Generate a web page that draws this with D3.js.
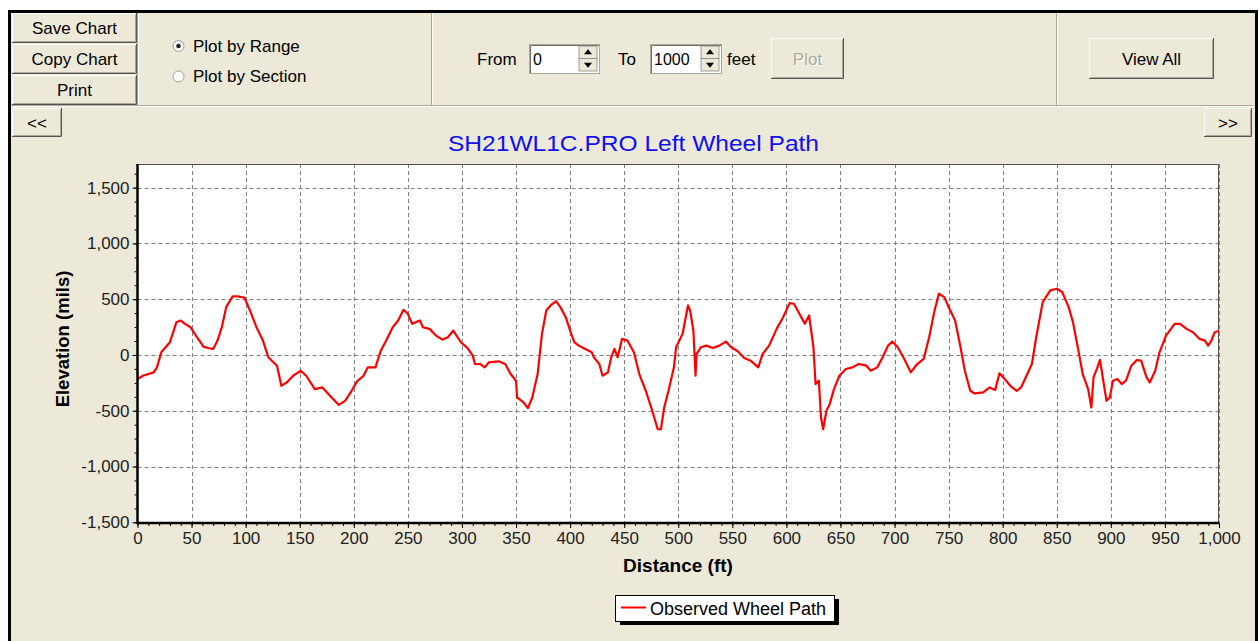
<!DOCTYPE html>
<html>
<head>
<meta charset="utf-8">
<script src="https://cdn.jsdelivr.net/npm/d3@7"></script>
<style>
  body { margin: 0; background: #fff; }
  svg text { font-family: "Liberation Sans", Arial, sans-serif; }
</style>
</head>
<body>
<script>
/**
 * DATA
 * */
const distanceFt = [
  0, 5, 15, 18, 22, 30, 36, 40, 44, 49, 55, 61, 66, 70, 74, 78, 82, 88, 93, 99,
  104, 110, 116, 121, 129, 133, 138, 144, 151, 156, 164, 171, 178, 186, 192, 198, 203, 209, 213, 220,
  225, 230, 236, 241, 246, 250, 254, 261, 264, 270, 276, 282, 287, 292, 299, 305, 310, 312, 317, 321,
  325, 334, 340, 345, 350, 351, 357, 361, 365, 370, 374, 378, 382, 387, 391, 396, 401, 404, 408, 414,
  420, 422, 427, 430, 435, 438, 441, 444, 448, 453, 459, 464, 470, 476, 481, 484, 487, 491, 496, 498,
  504, 509, 511, 514, 516, 517, 521, 526, 532, 538, 544, 549, 555, 561, 567, 574, 578, 584, 591, 597,
  603, 607, 612, 617, 621, 625, 627, 630, 632, 634, 637, 640, 644, 649, 655, 661, 667, 674, 678, 684,
  689, 694, 698, 703, 709, 715, 721, 727, 732, 737, 741, 746, 750, 756, 761, 765, 770, 774, 782, 788,
  793, 797, 802, 807, 813, 817, 822, 827, 831, 837, 844, 850, 855, 861, 865, 870, 874, 879, 882, 884,
  887, 890, 893, 896, 899, 902, 906, 910, 914, 919, 924, 928, 933, 936, 941, 945, 951, 959, 964, 970,
  976, 982, 987, 990, 993, 996, 999, 1000
];
const elevationMils = [
  -216, -186, -156, -111, 24, 114, 294, 309, 279, 249, 159, 75, 60, 54, 129, 249, 429, 525, 525, 513,
  399, 249, 129, -21, -96, -276, -246, -186, -141, -186, -306, -291, -366, -447, -411, -321, -237, -186, -111, -111,
  39, 129, 249, 309, 405, 369, 279, 309, 249, 234, 174, 138, 159, 219, 114, 63, -6, -81, -81, -111,
  -66, -57, -81, -171, -231, -381, -426, -477, -381, -171, 189, 399, 444, 483, 429, 339, 189, 114, 84, 54,
  24, -21, -81, -186, -156, -21, 54, -21, 144, 129, 24, -171, -321, -501, -666, -666, -471, -321, -111, 69,
  189, 444, 399, 219, -186, 9, 69, 84, 63, 84, 120, 69, 33, -27, -51, -111, 9, 84, 234, 339,
  465, 459, 369, 279, 354, 69, -261, -231, -561, -666, -501, -441, -306, -186, -126, -111, -81, -96, -141, -111,
  -21, 84, 120, 69, -36, -156, -81, -36, 159, 399, 549, 519, 430, 309, 69, -141, -321, -345, -336, -291,
  -315, -165, -216, -276, -321, -291, -186, -81, 159, 474, 579, 594, 564, 429, 294, 39, -171, -306, -471, -201,
  -126, -45, -231, -411, -381, -231, -216, -261, -231, -96, -45, -51, -201, -246, -141, 24, 174, 279, 279, 234,
  204, 144, 129, 84, 129, 204, 213, 215
];
const xTicks = d3.range(0, 1001, 50);
const yTicks = [-1500, -1000, -500, 0, 500, 1000, 1500];
const chartTitle = "SH21WL1C.PRO Left Wheel Path";
const seriesName = "Observed Wheel Path";

/**
 * CONSTANTS
 * */
const width = 1259, height = 641;
const bg = "#ECE9D8";
const plot = { left: 137.5, right: 1219, top: 164, bottom: 523 };
// plain hyphen for negatives, like the original app
const fmt = d3.formatLocale({ decimal: ".", thousands: ",", grouping: [3], currency: ["", ""], minus: "-" }).format(",");

const svg = d3.select("body").append("svg")
  .attr("width", width)
  .attr("height", height);

// window frame
svg.append("rect")
  .attr("x", 9.5).attr("y", 11.5)
  .attr("width", 1247).attr("height", 700)
  .attr("fill", bg).attr("stroke", "#000").attr("stroke-width", 3);

/**
 * little helpers for the windows-style controls
 * */
function button(x, y, w, h, label, color) {
  const g = svg.append("g");
  g.append("rect").attr("x", x).attr("y", y).attr("width", w).attr("height", h).attr("fill", bg);
  g.append("path").attr("d", `M${x + 0.5},${y + h - 1}V${y + 0.5}H${x + w - 1}`)
    .attr("stroke", "#fff").attr("fill", "none");
  g.append("path").attr("d", `M${x + 1.5},${y + h - 1.5}H${x + w - 1.5}V${y + 1.5}`)
    .attr("stroke", "#ACA899").attr("fill", "none");
  g.append("path").attr("d", `M${x},${y + h - 0.5}H${x + w - 0.5}V${y}`)
    .attr("stroke", "#555").attr("fill", "none");
  if (color) {
    g.append("text").attr("x", x + w / 2 + 1).attr("y", y + h / 2 + 7)
      .attr("text-anchor", "middle").attr("font-size", 17).attr("fill", "#fff").text(label);
  }
  g.append("text").attr("x", x + w / 2).attr("y", y + h / 2 + 6)
    .attr("text-anchor", "middle").attr("font-size", 17)
    .attr("fill", color || "#000").text(label);
}

function etchedV(x, y0, y1) {
  svg.append("line").attr("x1", x + 0.5).attr("x2", x + 0.5).attr("y1", y0).attr("y2", y1).attr("stroke", "#ACA899");
  svg.append("line").attr("x1", x + 1.5).attr("x2", x + 1.5).attr("y1", y0).attr("y2", y1).attr("stroke", "#fff");
}

function spinBox(x, y, w, h, value) {
  svg.append("rect").attr("x", x + 0.5).attr("y", y + 0.5).attr("width", w).attr("height", h)
    .attr("fill", "#fff").attr("stroke", "#ACA899");
  svg.append("path").attr("d", `M${x + 1.5},${y + h}V${y + 1.5}H${x + w}`)
    .attr("stroke", "#716F64").attr("fill", "none");
  svg.append("text").attr("x", x + 4).attr("y", y + h / 2 + 6).attr("font-size", 16).text(value);
  const sx = x + w - 20, sh = (h - 4) / 2;
  [0, 1].forEach(i => {
    const by = y + 2 + i * sh;
    svg.append("rect").attr("x", sx).attr("y", by).attr("width", 18).attr("height", sh)
      .attr("fill", bg).attr("stroke", "#888").attr("stroke-width", 0.8);
    const cx = sx + 9, cy = by + sh / 2;
    const tri = i === 0
      ? `M${cx - 4},${cy + 2}L${cx + 4},${cy + 2}L${cx},${cy - 3}Z`
      : `M${cx - 4},${cy - 2}L${cx + 4},${cy - 2}L${cx},${cy + 3}Z`;
    svg.append("path").attr("d", tri).attr("fill", "#000");
  });
}

function radio(x, y, label, checked) {
  svg.append("circle").attr("cx", x).attr("cy", y).attr("r", 5.5)
    .attr("fill", "#fff").attr("stroke", "#9a9a9a");
  if (checked) svg.append("circle").attr("cx", x).attr("cy", y).attr("r", 2.3).attr("fill", "#222");
  svg.append("text").attr("x", x + 14.5).attr("y", y + 5.5).attr("font-size", 17).text(label);
}

/**
 * TOOLBAR
 * */
button(12, 13, 125, 30, "Save Chart");
button(12, 44, 125, 30, "Copy Chart");
button(12, 75, 125, 30, "Print");
etchedV(137, 13, 105);
etchedV(431, 13, 105);
etchedV(1056, 13, 105);
svg.append("line").attr("x1", 11).attr("x2", 1254).attr("y1", 105.5).attr("y2", 105.5).attr("stroke", "#ACA899");
svg.append("line").attr("x1", 11).attr("x2", 1254).attr("y1", 106.5).attr("y2", 106.5).attr("stroke", "#fff");

radio(178.5, 46, "Plot by Range", true);
radio(178.5, 76.5, "Plot by Section", false);

svg.append("text").attr("x", 477).attr("y", 65).attr("font-size", 17).text("From");
spinBox(529, 44, 70, 29, "0");
svg.append("text").attr("x", 618).attr("y", 65).attr("font-size", 17).text("To");
spinBox(650, 44, 71, 29, "1000");
svg.append("text").attr("x", 727).attr("y", 65).attr("font-size", 17).text("feet");
button(771, 38, 73, 41, "Plot", "#ACA899");
button(1089, 38, 125, 41, "View All");

button(12, 108, 50, 29, "<<");
button(1204, 108, 48, 29, ">>");

/**
 * CHART
 * */
const xScale = d3.scaleLinear().domain([0, 1000]).range([plot.left, plot.right]);
const yScale = d3.scaleLinear().domain([-1500, 1712]).range([522.3, plot.top]);

svg.append("text")
  .attr("x", 448).attr("y", 151)
  .attr("font-size", 21.5)
  .attr("textLength", 371)
  .attr("lengthAdjust", "spacingAndGlyphs")
  .attr("fill", "#1010F0")
  .text(chartTitle);

svg.append("rect")
  .attr("x", plot.left).attr("y", plot.top)
  .attr("width", plot.right - plot.left).attr("height", plot.bottom - plot.top)
  .attr("fill", "#fff");

// grid
svg.append("g").selectAll("line.vg")
  .data(xTicks.filter(d => d > 0))
  .join("line")
  .attr("class", "vg")
  .attr("x1", d => Math.round(xScale(d)) + 0.5).attr("x2", d => Math.round(xScale(d)) + 0.5)
  .attr("y1", plot.top).attr("y2", plot.bottom)
  .attr("stroke", "#808080").attr("stroke-dasharray", "4,3");
svg.append("g").selectAll("line.hg")
  .data(yTicks.filter(d => d > -1500))
  .join("line")
  .attr("class", "hg")
  .attr("x1", plot.left).attr("x2", plot.right)
  .attr("y1", d => Math.round(yScale(d)) + 0.5).attr("y2", d => Math.round(yScale(d)) + 0.5)
  .attr("stroke", "#808080").attr("stroke-dasharray", "4,3");

// plot border top/right
svg.append("path")
  .attr("d", `M${plot.left},${plot.top + 0.5}H${plot.right - 0.5}V${plot.bottom}`)
  .attr("stroke", "#505050").attr("fill", "none");

// the series
const line = d3.line()
  .x((d, i) => xScale(distanceFt[i]))
  .y(d => yScale(d));
svg.append("path")
  .datum(elevationMils)
  .attr("d", line)
  .attr("fill", "none")
  .attr("stroke", "#FF0000")
  .attr("stroke-width", 2.2)
  .attr("stroke-linejoin", "round");

// AXES
const xAxis = d3.axisBottom(xScale).tickValues(xTicks).tickFormat(fmt).tickSize(5).tickPadding(4);
const xMinor = d3.axisBottom(xScale).tickValues(d3.range(0, 1001, 10)).tickFormat("").tickSize(3);
const yAxis = d3.axisLeft(yScale).tickValues(yTicks).tickFormat(fmt).tickSize(5).tickPadding(3);
const yMinor = d3.axisLeft(yScale).tickValues(d3.range(-1500, 1713, 125)).tickFormat("").tickSize(3);

svg.append("g").attr("transform", `translate(0,${plot.bottom})`).call(xMinor);
svg.append("g").attr("class", "axis").attr("transform", `translate(0,${plot.bottom})`).call(xAxis);
svg.append("g").attr("transform", `translate(${plot.left},0)`).call(yMinor);
svg.append("g").attr("class", "axis").attr("transform", `translate(${plot.left},0)`).call(yAxis);

svg.selectAll(".domain").remove();
svg.selectAll(".tick line").attr("stroke", "#000");
svg.selectAll(".axis text")
  .attr("font-size", 17)
  .attr("font-family", "'Liberation Sans', Arial, sans-serif")
  .attr("fill", "#222");

// thick axis lines
svg.append("line").attr("x1", plot.left).attr("x2", plot.left)
  .attr("y1", plot.top).attr("y2", plot.bottom + 1)
  .attr("stroke", "#000").attr("stroke-width", 2.5);
svg.append("line").attr("x1", plot.left - 1).attr("x2", plot.right)
  .attr("y1", plot.bottom).attr("y2", plot.bottom)
  .attr("stroke", "#000").attr("stroke-width", 2.5);

// axis titles
svg.append("text")
  .attr("x", 678).attr("y", 572)
  .attr("text-anchor", "middle")
  .attr("font-size", 19).attr("font-weight", "bold")
  .text("Distance (ft)");
svg.append("text")
  .attr("transform", "translate(69,339) rotate(-90)")
  .attr("text-anchor", "middle")
  .attr("font-size", 18.5).attr("font-weight", "bold")
  .text("Elevation (mils)");

// LEGEND
const legend = svg.append("g");
legend.append("rect").attr("x", 620).attr("y", 599).attr("width", 219).attr("height", 26).attr("fill", "#000");
legend.append("rect").attr("x", 615.5).attr("y", 595.5).attr("width", 219).attr("height", 26)
  .attr("fill", "#fff").attr("stroke", "#000");
legend.append("line").attr("x1", 621).attr("x2", 646).attr("y1", 607.5).attr("y2", 607.5)
  .attr("stroke", "#FF0000").attr("stroke-width", 2);
legend.append("text").attr("x", 650).attr("y", 614.5).attr("font-size", 18).text(seriesName);
</script>
</body>
</html>
